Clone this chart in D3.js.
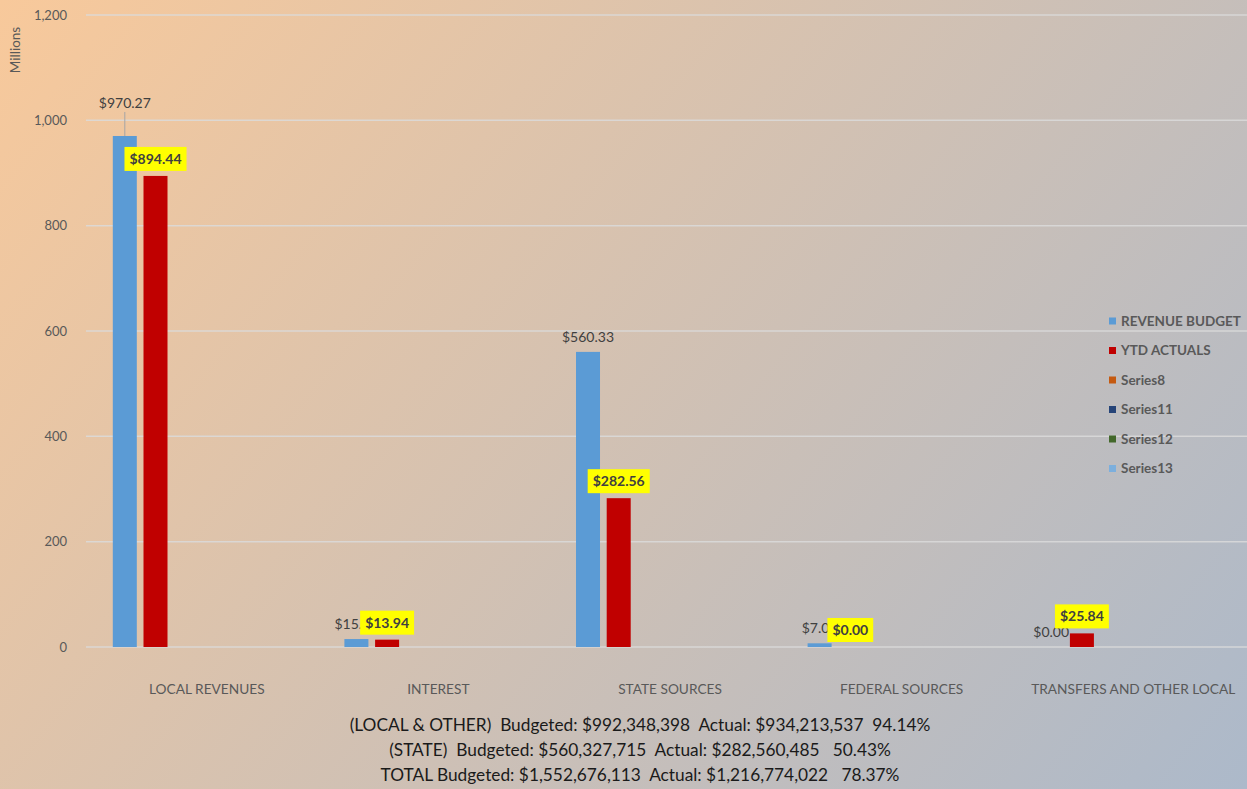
<!DOCTYPE html>
<html>
<head>
<meta charset="utf-8">
<script src="https://cdn.jsdelivr.net/npm/d3@7"></script>
<style>
  html, body { margin: 0; padding: 0; overflow: hidden; }
  svg { display: block; font-family: Lato, "Open Sans", sans-serif; }
</style>
</head>
<body>
<svg id="chart"></svg>
<script>
const width = 1247;
const height = 789;

// chart data (millions)
const categories = ["LOCAL REVENUES", "INTEREST", "STATE SOURCES", "FEDERAL SOURCES", "TRANSFERS AND OTHER LOCAL"];
const revenueBudget = [970.27, 15.08, 560.33, 7.0, 0.0];
const ytdActuals = [894.44, 13.94, 282.56, 0.0, 25.84];
const seriesNames = ["REVENUE BUDGET", "YTD ACTUALS", "Series8", "Series11", "Series12", "Series13"];
const seriesColors = ["#5b9bd5", "#c00000", "#c55a11", "#264478", "#43682b", "#7cafdd"];
const yTicks = [0, 200, 400, 600, 800, 1000, 1200];
const summaryLines = [
  "(LOCAL & OTHER)  Budgeted: $992,348,398  Actual: $934,213,537  94.14%",
  "(STATE)  Budgeted: $560,327,715  Actual: $282,560,485   50.43%",
  "TOTAL Budgeted: $1,552,676,113  Actual: $1,216,774,022   78.37%"
];

const svg = d3.select("#chart")
  .attr("width", width)
  .attr("height", height)
  .attr("viewBox", [0, 0, width, height]);

// background gradient
const grad = svg.append("defs").append("linearGradient")
  .attr("id", "bg")
  .attr("gradientUnits", "userSpaceOnUse")
  .attr("x1", 0).attr("y1", 0)
  .attr("x2", 1535).attr("y2", 1213);
grad.append("stop").attr("offset", 0).attr("stop-color", "#f8c99b");
grad.append("stop").attr("offset", 0.75).attr("stop-color", "#acb9ca");
grad.append("stop").attr("offset", 1).attr("stop-color", "#acb9ca");

svg.append("rect")
  .attr("width", width)
  .attr("height", height)
  .attr("fill", "url(#bg)");

const x0 = d3.scaleBand()
  .domain(categories)
  .range([91, 1249]);

// clustered bars: six series slots, only two carry data
const x1 = d3.scaleBand()
  .domain(seriesNames)
  .range([-94, 83.5])
  .paddingInner(0.218);

const y = d3.scaleLinear()
  .domain([0, 1200])
  .range([647, 15]);

// grid
svg.append("g")
  .selectAll("line")
  .data(yTicks)
  .join("line")
  .attr("x1", 86)
  .attr("x2", width)
  .attr("y1", (d) => y(d))
  .attr("y2", (d) => y(d))
  .attr("stroke", "#dadada")
  .attr("stroke-opacity", 0.85)
  .attr("stroke-width", 1.5);

// y axis labels
svg.append("g")
  .selectAll("text")
  .data(yTicks)
  .join("text")
  .attr("x", 67)
  .attr("y", (d) => y(d))
  .attr("dy", "0.35em")
  .attr("text-anchor", "end")
  .attr("fill", "#595959")
  .style("font-size", "13px")
  .text(d3.format(","));

svg.append("text")
  .attr("transform", "translate(20,50) rotate(-90)")
  .attr("text-anchor", "middle")
  .attr("fill", "#595959")
  .style("font-size", "13.5px")
  .text("Millions");

// bars
const barData = [
  { key: seriesNames[0], values: revenueBudget, color: seriesColors[0] },
  { key: seriesNames[1], values: ytdActuals, color: seriesColors[1] },
];

const centerOf = (cat, key) => x0(cat) + x0.bandwidth() / 2 + x1(key) + x1.bandwidth() / 2;

barData.forEach((s) => {
  svg.append("g")
    .selectAll("rect")
    .data(categories)
    .join("rect")
    .attr("x", (c) => x0(c) + x0.bandwidth() / 2 + x1(s.key))
    .attr("width", x1.bandwidth())
    .attr("y", (c, i) => y(s.values[i]))
    .attr("height", (c, i) => y(0) - y(s.values[i]))
    .attr("fill", s.color);
});

// category labels
svg.append("g")
  .selectAll("text")
  .data(categories)
  .join("text")
  .attr("x", (c) => x0(c) + x0.bandwidth() / 2)
  .attr("y", 694)
  .attr("text-anchor", "middle")
  .attr("fill", "#595959")
  .style("font-size", "13.7px")
  .text((c) => c);

// budget labels (the local one was dragged up with a leader line)
const lifted = new Set(["LOCAL REVENUES"]);
const fmt = (v) => "$" + d3.format(".2f")(v);

const budgetLabels = svg.append("g")
  .selectAll("g")
  .data(categories)
  .join("g");

budgetLabels.each(function (c, i) {
  const g = d3.select(this);
  const cx = centerOf(c, seriesNames[0]);
  const top = y(revenueBudget[i]);
  const base = lifted.has(c) ? top - 28 : top - 10;
  if (lifted.has(c)) {
    g.append("line")
      .attr("x1", cx).attr("x2", cx)
      .attr("y1", base + 4).attr("y2", top)
      .attr("stroke", "#a6a6a6")
      .attr("stroke-width", 1);
  }
  g.append("text")
    .attr("x", cx)
    .attr("y", base)
    .attr("text-anchor", "middle")
    .attr("fill", "#404040")
    .style("font-size", "14px")
    .text(fmt(revenueBudget[i]));
});

// actual labels in yellow boxes
const actualLabels = svg.append("g")
  .selectAll("g")
  .data(categories)
  .join("g");

actualLabels.each(function (c, i) {
  const g = d3.select(this);
  const cx = centerOf(c, seriesNames[1]);
  const top = y(ytdActuals[i]);
  const rect = g.append("rect").attr("fill", "#ffff00");
  const t = g.append("text")
    .attr("x", cx)
    .attr("y", top - 12)
    .attr("text-anchor", "middle")
    .attr("fill", "#404040")
    .style("font-size", "14px")
    .style("font-weight", "bold")
    .text(fmt(ytdActuals[i]));
  const w = t.node().getComputedTextLength() + 10;
  rect
    .attr("x", cx - w / 2)
    .attr("y", top - 29)
    .attr("width", w)
    .attr("height", 24);
});

// legend
const legend = svg.append("g")
  .selectAll("g")
  .data(seriesNames)
  .join("g")
  .attr("transform", (d, i) => `translate(1109,${321 + i * 29.5})`);

legend.append("rect")
  .attr("y", -3.5)
  .attr("width", 7)
  .attr("height", 7)
  .attr("fill", (d, i) => seriesColors[i]);

legend.append("text")
  .attr("x", 12)
  .attr("dy", "0.35em")
  .attr("fill", "#595959")
  .style("font-size", "13.5px")
  .style("font-weight", "bold")
  .text((d) => d);

// summary text under the chart
svg.append("g")
  .selectAll("text")
  .data(summaryLines)
  .join("text")
  .attr("x", 640)
  .attr("y", (d, i) => 731 + i * 25)
  .attr("text-anchor", "middle")
  .attr("fill", "#1a1a1a")
  .attr("xml:space", "preserve")
  .style("white-space", "pre")
  .style("font-size", "17.3px")
  .text((d) => d);
</script>
</body>
</html>
